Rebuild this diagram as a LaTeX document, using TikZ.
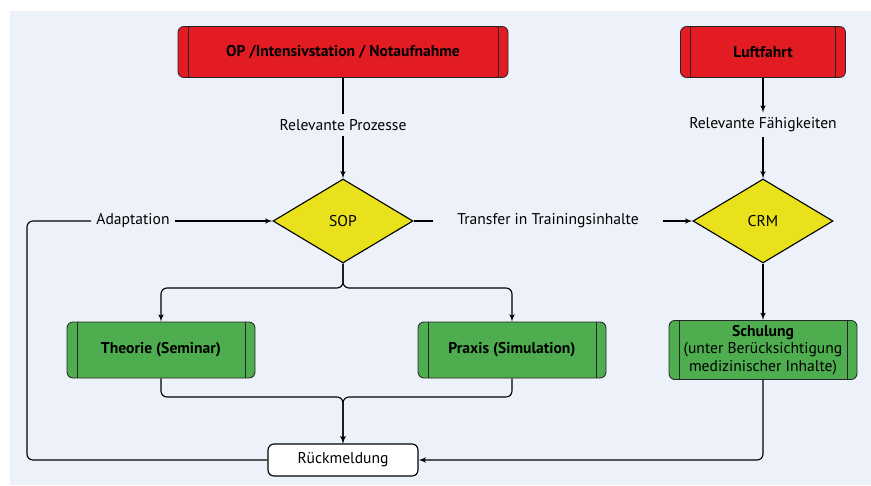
\documentclass[tikz,border=0pt]{standalone}
\usepackage{fontspec}
\setmainfont{PT Sans}
\usetikzlibrary{arrows}
\usetikzlibrary{calc}
\usetikzlibrary{shapes.geometric}
\usetikzlibrary{positioning}
\definecolor{bgblue}{HTML}{EDF2FA}
\definecolor{opred}{HTML}{E31B23}
\definecolor{sopyellow}{HTML}{E8E11C}
\definecolor{kursgreen}{HTML}{4EAE4F}
\newcommand{\diafont}{\fontsize{11.1}{12.5}\selectfont}
\tikzstyle{framed} = [rectangle, draw=black!85, rounded corners=0.15cm, line width=0.6pt,
    font=\diafont\bfseries, align=center,
    path picture={\draw[black!85, line width=0.6pt]
      ([xshift=0.25cm]path picture bounding box.north west) -- ([xshift=0.25cm]path picture bounding box.south west)
      ([xshift=-0.25cm]path picture bounding box.north east) -- ([xshift=-0.25cm]path picture bounding box.south east);}]
\tikzstyle{source} = [framed, fill=opred, minimum height=1.275cm]
\tikzstyle{course} = [framed, fill=kursgreen, minimum width=4.7cm, minimum height=1.4cm]
\tikzstyle{decision} = [diamond, draw, fill=sopyellow, minimum width=3.5cm,
    minimum height=2.1cm, inner sep=0pt]
\tikzstyle{feedback} = [rectangle, draw, fill=white, rounded corners=0.15cm,
    minimum width=3.75cm, minimum height=0.8cm]
\tikzstyle{line} = [draw, -latex']

\begin{document}
\begin{tikzpicture}[node distance = 1cm, auto, line width=0.8pt, font=\diafont]
    % Background
    \useasboundingbox (0,0) rectangle (21.775,-12.125);
    \fill [bgblue] (0.25,-0.275) rectangle (21.775,-12.125);
    % Place nodes
    \node [source, minimum width=8.25cm] (OP) at (8.575,-1.3) {OP /Intensivstation / Notaufnahme};
    \node [source, minimum width=4.125cm, right of=OP, node distance=10.5cm] (LF) {Luftfahrt};
    \node [below of=OP, node distance=1.825cm] (prozesse) {Relevante Prozesse};
    \node [below of=LF, node distance=1.825cm] (faehig) {Relevante Fähigkeiten};
    \node [decision, below of=OP, node distance=4.225cm] (SOP) {SOP};
    \node [decision, below of=LF, node distance=4.225cm] (CRM) {CRM};
    \node [left of=SOP, node distance=5.25cm] (adapt) {Adaptation};
    \node [right of=SOP, node distance=5.125cm, inner xsep=0.6cm] (transfer) {Transfer in Trainingsinhalte};
    \node [course, below of=SOP, node distance=3.225cm, xshift=-4.55cm] (theorie) {Theorie (Seminar)};
    \node [course, below of=SOP, node distance=3.225cm, xshift=4.225cm] (praxis) {Praxis (Simulation)};
    \node [course, below of=CRM, node distance=3.225cm] (schulung) {Schulung\\{\mdseries (unter Berücksichtigung}\\{\mdseries medizinischer Inhalte)}};
    \node [feedback, below of=SOP, node distance=5.975cm] (rueck) {Rückmeldung};
    \coordinate [below of=SOP, node distance=1.675cm] (split);
    \coordinate [below of=SOP, node distance=4.4cm] (join);
    \coordinate [left of=SOP, node distance=7.9cm] (turn);
    % Draw edges
    \draw (OP) -- (prozesse);
    \path [line] (prozesse) -- (SOP);
    \path [line] (LF) -- (faehig);
    \path [line] (faehig) -- (CRM);
    \path [line] (adapt) -- (SOP);
    \draw (SOP) -- (transfer);
    \path [line] (transfer) -- (CRM);
    \path [line] (CRM) -- (schulung);
    \path [line, rounded corners=0.15cm] (SOP.south) -- (split) -| (theorie.north);
    \path [line, rounded corners=0.15cm] (SOP.south) -- (split) -| (praxis.north);
    \path [line, rounded corners=0.15cm] (theorie.south) |- (join) -- (rueck.north);
    \path [line, rounded corners=0.15cm] (praxis.south) |- (join) -- (rueck.north);
    \path [line, rounded corners=0.15cm] (schulung.south) |- (rueck.east);
    \draw [rounded corners=0.15cm] (rueck.west) -| (turn) -- (adapt);
\end{tikzpicture}
\end{document}
